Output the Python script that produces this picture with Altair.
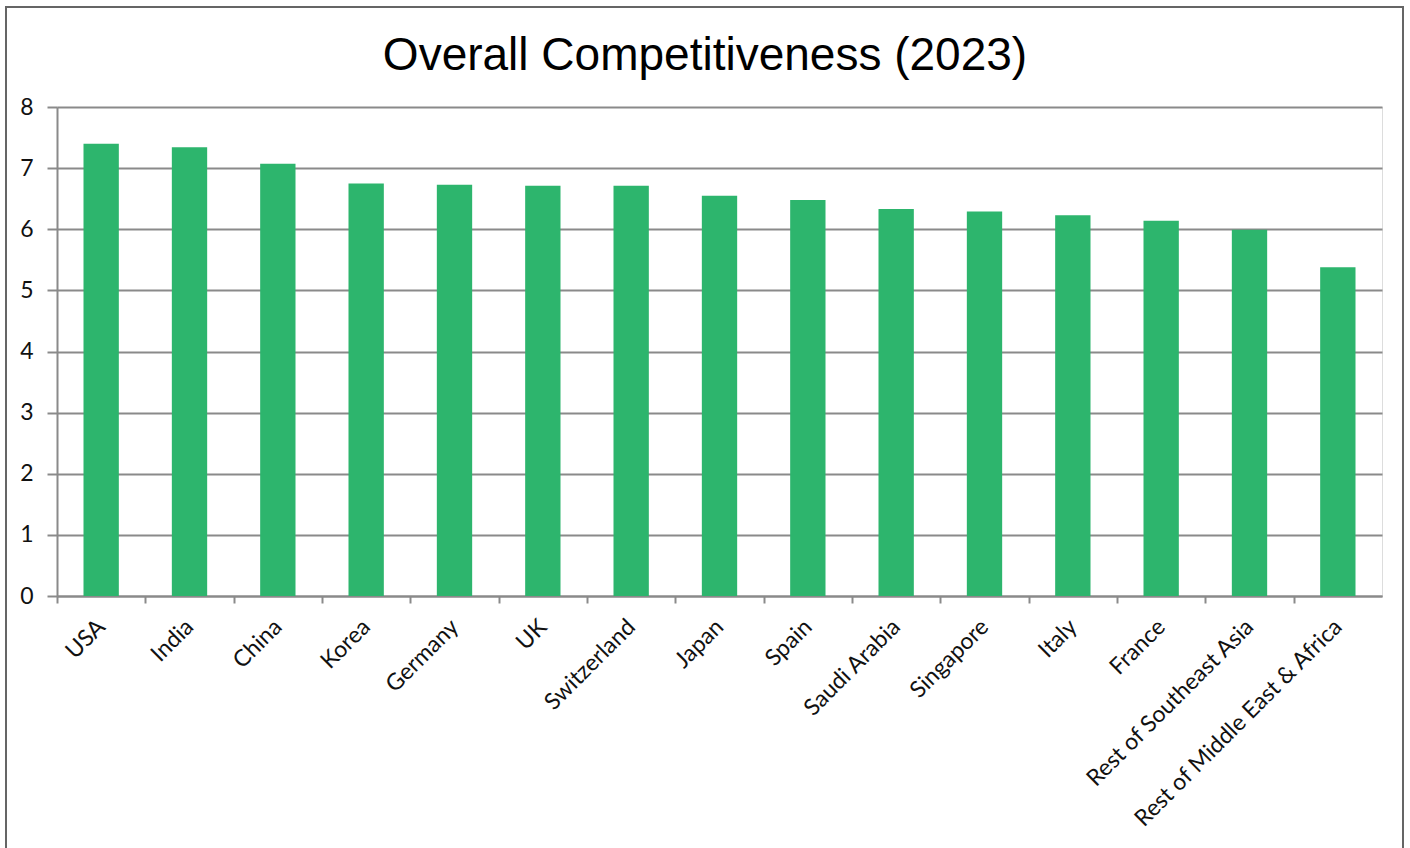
import altair as alt
import pandas as pd

countries = ["USA", "India", "China", "Korea", "Germany", "UK", "Switzerland", "Japan",
             "Spain", "Saudi Arabia", "Singapore", "Italy", "France",
             "Rest of Southeast Asia", "Rest of Middle East & Africa"]
scores = [7.40, 7.34, 7.07, 6.75, 6.73, 6.71, 6.71, 6.55, 6.48, 6.33, 6.29, 6.23, 6.14, 5.99, 5.38]
title_text = ["Overall Competitiveness (2023)"]

df = pd.DataFrame({"country": countries, "score": scores})

W, H = 1325, 489
step = W / (15 - 0.6 + 0.6)
half = step / 2

bars = alt.Chart(df).mark_bar(color="#2DB56D").encode(
    x=alt.X("country:N", sort=countries, title=None,
            scale=alt.Scale(paddingInner=0.6, paddingOuter=0.3),
            axis=alt.Axis(labelAngle=-45, labelAlign="right", labelBaseline="middle",
                          labelFont="Lato", labelFontSize=23, labelColor="#111",
                          labelLimit=0, labelPadding=20, tickOffset=-half, labelOffset=half,
                          tickSize=7, tickWidth=2, tickColor="#8a8a8a",
                          domainColor="#8a8a8a", domainWidth=2, grid=False)),
    y=alt.Y("score:Q", title=None,
            scale=alt.Scale(domain=[0, 8], nice=False),
            axis=alt.Axis(values=list(range(9)), labelFont="Lato", labelFontSize=23,
                          labelColor="#111", labelPadding=14, tickSize=10, tickWidth=2,
                          tickColor="#8a8a8a", domainColor="#8a8a8a", domainWidth=2,
                          gridColor="#8a8a8a", gridWidth=2)),
)

border = alt.Chart(df).mark_rect(fill=None, stroke="#666", strokeWidth=1.5).encode(
    x=alt.value(-51), x2=alt.value(1346), y=alt.value(-100), y2=alt.value(800)
)

title = alt.Chart(pd.DataFrame({"t": title_text})).mark_text(
    font="Liberation Sans", fontSize=46, color="#000", align="center", baseline="alphabetic"
).encode(text="t:N", x=alt.value(648), y=alt.value(-37))

chart = alt.layer(border, bars, title).properties(
    width=W, height=H,
    autosize=alt.AutoSizeParams(type="none"),
    padding={"left": 57, "top": 107, "right": 28, "bottom": 252},
).configure_view(stroke=None).configure(background="white")

chart.save("out.html", embed_options={"renderer": "svg", "actions": False})
